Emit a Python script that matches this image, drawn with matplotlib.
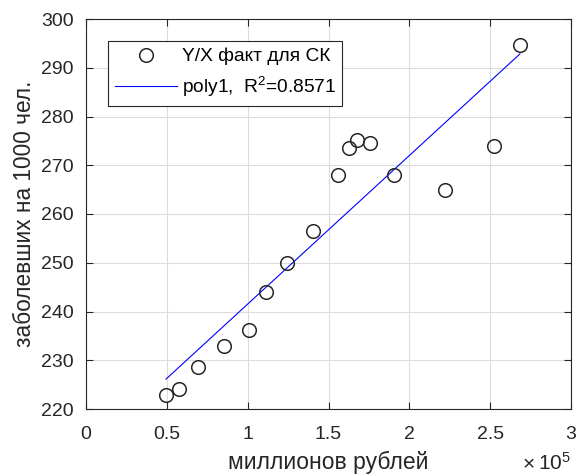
import numpy as np
import matplotlib
matplotlib.use("Agg")
import matplotlib.pyplot as plt

# data (x in units of 1e5 million rubles)
x_vals = [0.495, 0.577, 0.694, 0.855, 1.010, 1.115, 1.241, 1.406, 1.557,
          1.626, 1.678, 1.754, 1.907, 2.222, 2.523, 2.684]
y_vals = [222.9, 224.2, 228.6, 232.9, 236.2, 244.0, 250.0, 256.5, 268.1,
          273.5, 275.1, 274.5, 268.1, 264.9, 273.9, 294.7]
x_ticks = [0, 0.5, 1, 1.5, 2, 2.5, 3]
x_tick_labels = ["0", "0.5", "1", "1.5", "2", "2.5", "3"]
y_ticks = [220, 230, 240, 250, 260, 270, 280, 290, 300]
legend_labels = ["Y/X факт для СК", "poly1,  R$^2$=0.8571"]

plt.rcParams['font.family'] = ['Liberation Sans', 'DejaVu Sans']
plt.rcParams['mathtext.fontset'] = 'custom'
plt.rcParams['mathtext.rm'] = 'Liberation Sans'
plt.rcParams['mathtext.it'] = 'Liberation Sans'

x = np.array(x_vals)
y = np.array(y_vals)
p = np.polyfit(x, y, 1)
xf = np.array([x.min(), x.max()])
yf = np.polyval(p, xf)

fig = plt.figure(figsize=(5.79, 4.75), dpi=100)
ax = fig.add_axes([86/579, 1-409/475, (571-86)/579, (409-19)/475])

tc = '#262626'
ax.plot(x, y, 'o', mfc='none', mec=tc, ms=9.8, mew=1.1, label=legend_labels[0], zorder=3)
ax.plot(xf, yf, '-', color=(0, 0, 1), lw=0.8, label=legend_labels[1], zorder=2)

ax.set_xlim(0, 3)
ax.set_ylim(220, 300)
ax.set_xticks(x_ticks)
ax.set_xticklabels(x_tick_labels)
ax.set_yticks(y_ticks)
ax.grid(True, color='#dcdcdc', lw=0.8)
ax.set_axisbelow(True)
for s in ax.spines.values():
    s.set_color(tc)
    s.set_linewidth(0.8)
ax.tick_params(direction='in', length=5, width=0.8, colors=tc, labelsize=14,
               top=True, right=True)
ax.tick_params(axis='y', pad=9)
ax.tick_params(axis='x', pad=12)

ax.set_xlabel("миллионов рублей", fontsize=16.5, color=tc)
ax.set_ylabel("заболевших на 1000 чел.", fontsize=16.3, color=tc)
ax.xaxis.set_label_coords(0.5, -(451-409)/390)
ax.yaxis.set_label_coords((36-86)/485, 0.5)

fig.text(523/579, 1-470/475, "\u00d7", fontsize=15, color=tc,
         ha='left', va='baseline')
fig.text(571/579, 1-470/475, r"10$^{5}$", fontsize=15, color=tc,
         ha='right', va='baseline')

leg = ax.legend(loc='upper left', bbox_to_anchor=((108-86)/485, 1-(41-19)/390), fontsize=13.8,
                frameon=True, fancybox=False, edgecolor=tc, framealpha=1,
                handlelength=3.25, borderpad=0.35, labelspacing=0.5,
                handletextpad=0.25, borderaxespad=0)
leg.get_frame().set_linewidth(0.8)
for t in leg.get_texts():
    t.set_color('black')

fig.savefig("out.png", dpi=100)
